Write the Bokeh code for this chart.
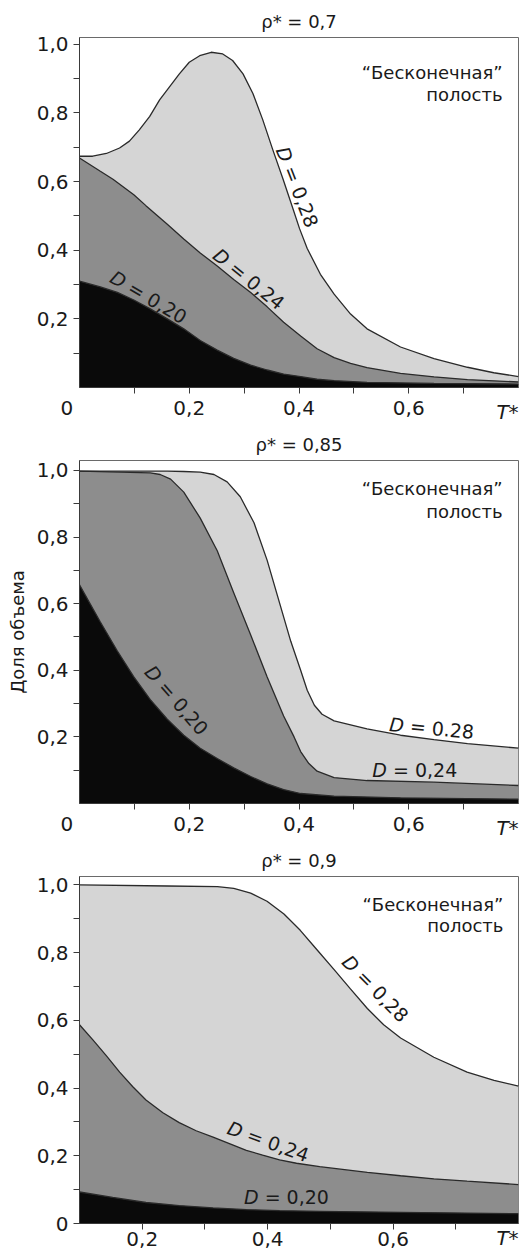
import math
from bokeh.plotting import figure
from bokeh.layouts import column
from bokeh.models import FixedTicker, LinearAxis
from bokeh.core.properties import value
from bokeh.embed import file_html
from bokeh.resources import INLINE

FONT = "DejaVu Sans"

# ---------------- data: rho* = 0.7 ----------------
a28_x = [0.0, 0.024, 0.049, 0.073, 0.091, 0.109, 0.128, 0.146, 0.164, 0.182, 0.200, 0.219, 0.240,
         0.261, 0.279, 0.298, 0.316, 0.334, 0.352, 0.371, 0.389, 0.401, 0.415, 0.439, 0.464, 0.494,
         0.524, 0.585, 0.646, 0.707, 0.755, 0.8]
a28_y = [0.674, 0.674, 0.682, 0.698, 0.718, 0.751, 0.790, 0.838, 0.876, 0.914, 0.948, 0.967, 0.977,
         0.972, 0.953, 0.914, 0.857, 0.780, 0.694, 0.607, 0.521, 0.463, 0.405, 0.330, 0.272, 0.214,
         0.171, 0.118, 0.084, 0.059, 0.043, 0.032]
a24_x = [0.0, 0.038, 0.061, 0.099, 0.121, 0.160, 0.190, 0.220, 0.251, 0.281, 0.312, 0.342, 0.372,
         0.403, 0.433, 0.464, 0.494, 0.524, 0.585, 0.646, 0.707, 0.8]
a24_y = [0.669, 0.630, 0.607, 0.562, 0.530, 0.476, 0.433, 0.392, 0.354, 0.315, 0.277, 0.235, 0.190,
         0.150, 0.113, 0.087, 0.070, 0.058, 0.041, 0.031, 0.023, 0.016]
a20_x = [0.0, 0.038, 0.069, 0.099, 0.129, 0.160, 0.190, 0.220, 0.251, 0.281, 0.312, 0.342, 0.372,
         0.403, 0.433, 0.464, 0.524, 0.646, 0.8]
a20_y = [0.310, 0.293, 0.277, 0.255, 0.229, 0.200, 0.171, 0.137, 0.109, 0.085, 0.065, 0.051, 0.039,
         0.032, 0.024, 0.020, 0.015, 0.012, 0.010]

# ---------------- data: rho* = 0.85 ----------------
b28_x = [0.0, 0.160, 0.190, 0.220, 0.245, 0.269, 0.293, 0.318, 0.342, 0.366, 0.385, 0.403, 0.415,
         0.428, 0.442, 0.464, 0.524, 0.585, 0.646, 0.707, 0.8]
b28_y = [0.998, 0.998, 0.997, 0.995, 0.988, 0.966, 0.921, 0.843, 0.730, 0.594, 0.487, 0.400, 0.340,
         0.295, 0.268, 0.248, 0.224, 0.205, 0.192, 0.180, 0.166]
b24_x = [0.0, 0.129, 0.147, 0.166, 0.190, 0.220, 0.251, 0.281, 0.312, 0.342, 0.372, 0.391, 0.403,
         0.418, 0.433, 0.464, 0.524, 0.646, 0.8]
b24_y = [0.998, 0.993, 0.988, 0.974, 0.935, 0.857, 0.759, 0.633, 0.506, 0.380, 0.263, 0.200, 0.156,
         0.120, 0.097, 0.078, 0.069, 0.064, 0.054]
b20_x = [0.0, 0.038, 0.069, 0.099, 0.129, 0.160, 0.190, 0.220, 0.251, 0.281, 0.312, 0.342, 0.372,
         0.403, 0.464, 0.585, 0.8]
b20_y = [0.657, 0.545, 0.458, 0.380, 0.312, 0.253, 0.205, 0.166, 0.135, 0.107, 0.081, 0.059, 0.042,
         0.030, 0.022, 0.017, 0.013]

# ---------------- data: rho* = 0.9 ----------------
c28_x = [0.1, 0.240, 0.320, 0.346, 0.373, 0.399, 0.426, 0.452, 0.479, 0.506, 0.532, 0.559, 0.585,
         0.612, 0.665, 0.718, 0.761, 0.8]
c28_y = [1.000, 0.997, 0.995, 0.990, 0.976, 0.952, 0.914, 0.866, 0.808, 0.750, 0.693, 0.635, 0.587,
         0.548, 0.491, 0.447, 0.423, 0.406]
c24_x = [0.1, 0.121, 0.143, 0.164, 0.185, 0.206, 0.233, 0.259, 0.286, 0.313, 0.339, 0.366, 0.392,
         0.419, 0.446, 0.483, 0.559, 0.612, 0.665, 0.718, 0.8]
c24_y = [0.587, 0.543, 0.495, 0.447, 0.404, 0.365, 0.327, 0.298, 0.274, 0.255, 0.236, 0.216, 0.202,
         0.188, 0.178, 0.168, 0.151, 0.141, 0.132, 0.125, 0.115]
c20_x = [0.1, 0.153, 0.206, 0.259, 0.313, 0.366, 0.419, 0.483, 0.612, 0.8]
c20_y = [0.093, 0.077, 0.062, 0.053, 0.046, 0.041, 0.038, 0.036, 0.033, 0.029]

titles = ["ρ* = 0,7", "ρ* = 0,85", "ρ* = 0,9"]
d_labels = ["= 0,28", "= 0,24", "= 0,20"]
d_labels_b = ["= 0.28", "= 0,24", "= 0,20"]
cavity = ["“Бесконечная”", "полость"]
y_label = "Доля объема"
x_end_label = "T*"
x_zero_label = "0"

C_LIGHT = "#d5d5d5"
C_MID = "#8d8d8d"
C_DARK = "#0a0a0a"
C_LINE = "#2a2a2a"
C_TEXT = "#1a1a1a"
C_AXIS = "#3a3a3a"

W = 520
LEFT, RIGHT = 79, 2
FW = W - LEFT - RIGHT
NBSP = "\u00a0"
T_STANDOFF = -23


def fmt(v):
    return f"{v:.1f}".replace(".", ",")


def dlabel(p, cx, cy, ang, rest, kx, ky, size=19):
    a = math.radians(ang)
    wd = 0.770 * size
    gap = 0.318 * size
    widths = {"=": 0.838, " ": 0.318, ",": 0.318, ".": 0.318}
    wr = sum(widths.get(ch, 0.636) for ch in rest) * size
    total = wd + gap + wr
    offD = -total / 2 + wd
    offR = -total / 2 + wd + gap
    dxD, dyD = offD * math.cos(a) / kx, offD * math.sin(a) / ky
    dxR, dyR = offR * math.cos(a) / kx, offR * math.sin(a) / ky
    p.text(x=[cx + dxD], y=[cy + dyD], text=["D"], angle=a, text_align="right",
           text_baseline="middle", text_font=value(FONT), text_font_style="italic",
           text_font_size=f"{size}px", text_color=C_TEXT)
    p.text(x=[cx + dxR], y=[cy + dyR], text=[rest], angle=a, text_align="left",
           text_baseline="middle", text_font=value(FONT), text_font_style="normal",
           text_font_size=f"{size}px", text_color=C_TEXT)


def panel(title, xr, yr, height, top, bottom, s28, s24, s20, ymaj, ymin_t, xlab, xmarks,
          ylab=None, corner_zero=False):
    p = figure(width=W, height=height, x_range=xr, y_range=yr, output_backend="svg",
               toolbar_location=None, min_border_left=LEFT, min_border_right=RIGHT,
               min_border_top=top, min_border_bottom=bottom)
    p.title.text = title
    p.title.align = "center"
    p.title.text_font = FONT
    p.title.text_font_size = "18px"
    p.title.text_font_style = "normal"
    p.title.text_color = C_TEXT
    p.title.standoff = 11
    p.grid.visible = False
    p.outline_line_color = "#6a6a6a"
    p.outline_line_width = 1
    p.background_fill_color = "white"
    p.border_fill_color = "white"

    for (xs, ys), col in zip([s28, s24, s20], [C_LIGHT, C_MID, C_DARK]):
        p.varea(x=xs, y1=[yr[0]] * len(xs), y2=ys, fill_color=col)
    for xs, ys in [s28, s24, s20]:
        p.line(x=xs, y=ys, line_color=C_LINE, line_width=1.3)

    for ax in (p.xaxis[0], p.yaxis[0]):
        ax.axis_line_color = C_AXIS
        ax.major_tick_line_color = C_AXIS
        ax.minor_tick_line_color = C_AXIS
        ax.major_tick_out = 6
        ax.major_tick_in = 0
        ax.minor_tick_out = 6
        ax.minor_tick_in = 0
        ax.major_label_text_font = FONT
        ax.major_label_text_font_size = "20px"
        ax.major_label_text_color = C_TEXT
    p.yaxis.ticker = FixedTicker(ticks=ymaj, minor_ticks=ymin_t)
    p.yaxis.major_label_overrides = {v: (fmt(v) if v != 0 else "0") for v in ymaj}
    p.yaxis.major_label_standoff = 5
    if ylab:
        p.yaxis.axis_label = ylab
        p.yaxis.axis_label_text_font = FONT
        p.yaxis.axis_label_text_font_size = "18px"
        p.yaxis.axis_label_text_font_style = "normal"
        p.yaxis.axis_label_text_color = C_TEXT
        p.yaxis.axis_label_standoff = 6

    kx = FW / (xr[1] - xr[0])

    # main x axis: all tick marks are drawn as minor ticks, labels come from major ticks
    xa = p.xaxis[0]
    major = ([xr[0]] if corner_zero else []) + xlab
    xa.ticker = FixedTicker(ticks=major, minor_ticks=xmarks)
    xa.major_tick_out = 0
    overrides = {v: fmt(v) for v in xlab}
    if corner_zero:
        overrides[xr[0]] = x_zero_label + NBSP * 4
    xa.major_label_overrides = overrides
    xa.major_label_standoff = 2

    # second x axis carrying only the italic "T*" label, lifted to the tick-label row
    t_pos = xr[1] - 11 / kx
    ta = LinearAxis(ticker=FixedTicker(ticks=[t_pos], minor_ticks=[]),
                    major_label_overrides={t_pos: x_end_label})
    ta.axis_line_color = None
    ta.major_tick_line_color = None
    ta.minor_tick_line_color = None
    ta.major_tick_out = 0
    ta.major_tick_in = 0
    ta.minor_tick_out = 0
    ta.minor_tick_in = 0
    ta.major_label_standoff = T_STANDOFF
    ta.major_label_text_font = FONT
    ta.major_label_text_font_size = "20px"
    ta.major_label_text_font_style = "italic"
    ta.major_label_text_color = C_TEXT
    p.add_layout(ta, "below")
    return p, kx


FH = [353, 354, 355]

# panel 1
p1, kx1 = panel(titles[0], (0, 0.8), (0, 1.02), 426, 37, 36,
                (a28_x, a28_y), (a24_x, a24_y), (a20_x, a20_y),
                [0.2, 0.4, 0.6, 0.8, 1.0], [0.1, 0.3, 0.5, 0.7, 0.9],
                [0.2, 0.4, 0.6], [0.1, 0.2, 0.3, 0.4, 0.5, 0.6, 0.7], corner_zero=True)
ky1 = FH[0] / 1.02
p1.text(x=[0.771, 0.771], y=[0.919, 0.853], text=cavity, text_align="right", text_baseline="middle",
        text_font=value(FONT), text_font_size="18px", text_color=C_TEXT)
dlabel(p1, 0.397, 0.585, -68.7, d_labels[0], kx1, ky1)
dlabel(p1, 0.309, 0.317, -38.8, d_labels[1], kx1, ky1)
dlabel(p1, 0.126, 0.264, -30.4, d_labels[2], kx1, ky1)

# panel 2
p2, kx2 = panel(titles[1], (0, 0.8), (0, 1.03), 416, 28, 34,
                (b28_x, b28_y), (b24_x, b24_y), (b20_x, b20_y),
                [0.2, 0.4, 0.6, 0.8, 1.0], [0.1, 0.3, 0.5, 0.7, 0.9],
                [0.2, 0.4, 0.6], [0.1, 0.2, 0.3, 0.4, 0.5, 0.6, 0.7], ylab=y_label, corner_zero=True)
ky2 = FH[1] / 1.03
p2.text(x=[0.771, 0.771], y=[0.945, 0.876], text=cavity, text_align="right", text_baseline="middle",
        text_font=value(FONT), text_font_size="18px", text_color=C_TEXT)
dlabel(p2, 0.642, 0.227, -5.5, d_labels_b[0], kx2, ky2)
dlabel(p2, 0.611, 0.102, 0.0, d_labels_b[1], kx2, ky2)
dlabel(p2, 0.177, 0.312, -49.0, d_labels_b[2], kx2, ky2)

# panel 3
p3, kx3 = panel(titles[2], (0.1, 0.8), (0, 1.025), 411, 26, 30,
                (c28_x, c28_y), (c24_x, c24_y), (c20_x, c20_y),
                [0.0, 0.2, 0.4, 0.6, 0.8, 1.0], [0.1, 0.3, 0.5, 0.7, 0.9],
                [0.2, 0.4, 0.6], [0.2, 0.3, 0.4, 0.5, 0.6, 0.7])
ky3 = FH[2] / 1.025
p3.text(x=[0.776, 0.776], y=[0.942, 0.880], text=cavity, text_align="right", text_baseline="middle",
        text_font=value(FONT), text_font_size="18px", text_color=C_TEXT)
dlabel(p3, 0.572, 0.695, -45.5, d_labels[0], kx3, ky3)
dlabel(p3, 0.401, 0.243, -20.0, d_labels[1], kx3, ky3)
dlabel(p3, 0.430, 0.077, 0.0, d_labels[2], kx3, ky3)

layout = column(p1, p2, p3, spacing=0)
open("out.html", "w").write(file_html(layout, INLINE))
